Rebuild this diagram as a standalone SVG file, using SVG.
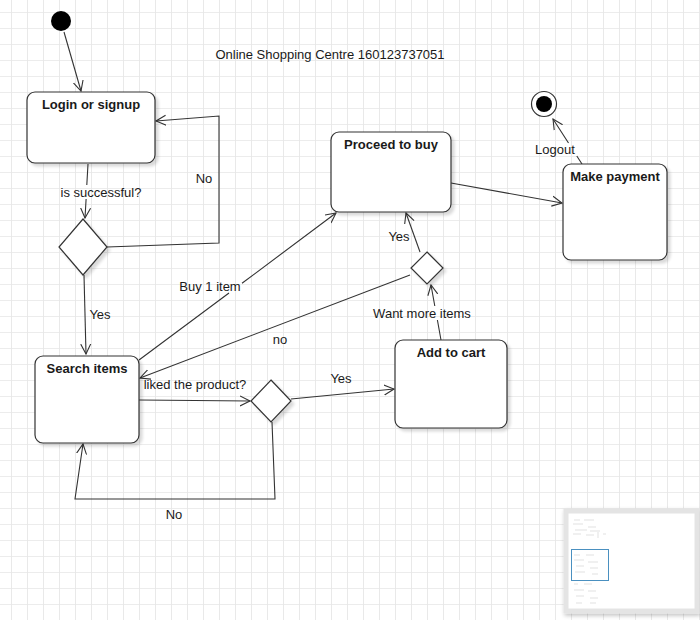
<svg xmlns="http://www.w3.org/2000/svg" width="700" height="620" viewBox="0 0 700 620">
<style>
text{font-family:"Liberation Sans",Arial,sans-serif;font-size:13px;fill:#1a1a1a}
.t{font-weight:bold;text-anchor:middle}
.l{text-anchor:middle}
.box{fill:#fff;stroke:#333;stroke-width:1.2;filter:url(#sh)}
.e{fill:none;stroke:#333;stroke-width:1.1;marker-end:url(#ar)}
</style>
<defs>
<pattern id="grid" x="11" y="12" width="16" height="16" patternUnits="userSpaceOnUse">
<path d="M0,0 H16 M0,0 V16" stroke="#e6e6e6" stroke-width="1.7" fill="none"/>
</pattern>
<marker id="ar" markerWidth="12" markerHeight="12" refX="10" refY="5" orient="auto" markerUnits="userSpaceOnUse" viewBox="0 0 12 10">
<path d="M0,0 L10,5 L0,10" fill="none" stroke="#333" stroke-width="1.1"/>
</marker>
<filter id="sh" x="-10%" y="-10%" width="130%" height="130%">
<feGaussianBlur in="SourceAlpha" stdDeviation="1.5"/>
<feOffset dx="3" dy="3" result="b"/>
<feComponentTransfer><feFuncA type="linear" slope="0.15"/></feComponentTransfer>
<feMerge><feMergeNode/><feMergeNode in="SourceGraphic"/></feMerge>
</filter>
<filter id="msh" x="-10%" y="-10%" width="120%" height="120%">
<feGaussianBlur in="SourceAlpha" stdDeviation="2"/>
<feOffset dx="1" dy="2"/>
<feComponentTransfer><feFuncA type="linear" slope="0.25"/></feComponentTransfer>
<feMerge><feMergeNode/><feMergeNode in="SourceGraphic"/></feMerge>
</filter>
</defs>
<rect width="700" height="620" fill="#fff"/>
<rect width="700" height="620" fill="url(#grid)"/>
<text x="330" y="59" class="l">Online Shopping Centre 160123737051</text>
<g id="connectors">
<path class="e" d="M64,32 L81,91"/>
<path class="e" d="M88,164 L86.8,185 M86.1,199 L85,218"/>
<text x="101" y="197" class="l">is successful?</text>
<path class="e" d="M107,247 L219,243 L219,116 L156,121"/>
<text x="204" y="183" class="l">No</text>
<path class="e" d="M84,275 L86,354"/>
<text x="100" y="319" class="l">Yes</text>
<path class="e" d="M139,360 L229,293 M242,283.3 L336,213"/>
<text x="210" y="291" class="l">Buy 1 item</text>
<path class="e" d="M451,183 L562,203"/>
<path class="e" d="M582,164 L576.8,156 M568.5,143 L553,119"/>
<text x="555" y="154" class="l">Logout</text>
<path class="e" d="M420,252 L406,213"/>
<text x="399" y="241" class="l">Yes</text>
<path class="e" d="M410,275 L140,378"/>
<text x="280" y="344" class="l">no</text>
<path class="e" d="M441,340 L437.4,320 M434.8,306 L431,285"/>
<text x="422" y="318" class="l">Want more items</text>
<path class="e" d="M139,400 L250,401"/>
<text x="195" y="389" class="l">liked the product?</text>
<path class="e" d="M291,399 L394,389"/>
<text x="341" y="383" class="l">Yes</text>
<path class="e" d="M272,422 L275,499 L75,499 L83,444"/>
<text x="174" y="519" class="l">No</text>
</g>
<g id="start"><circle cx="61" cy="21" r="10" fill="#000"/></g>
<g id="end"><circle cx="544" cy="104" r="12.5" fill="#fff" stroke="#333" stroke-width="1.2"/><circle cx="544" cy="104" r="8" fill="#000"/></g>
<g id="login"><rect class="box" x="27" y="92" width="128" height="71" rx="8"/><text x="91" y="109" class="t">Login or signup</text></g>
<g id="d1"><path class="box" d="M83,219 L107,247 L83,275 L59,247 Z"/></g>
<g id="search"><rect class="box" x="35" y="356" width="104" height="87" rx="8"/><text x="87" y="373" class="t">Search items</text></g>
<g id="proceed"><rect class="box" x="331" y="132" width="120" height="80" rx="8"/><text x="391" y="149" class="t">Proceed to buy</text></g>
<g id="payment"><rect class="box" x="563" y="164" width="104" height="96" rx="8"/><text x="615" y="181" class="t">Make payment</text></g>
<g id="d2"><path class="box" d="M427,252 L443,268 L427,284 L411,268 Z"/></g>
<g id="cart"><rect class="box" x="395" y="340" width="112" height="88" rx="8"/><text x="451" y="357" class="t">Add to cart</text></g>
<g id="d3"><path class="box" d="M271,380 L291,401 L271,422 L251,401 Z"/></g>
<g id="minimap">
<rect x="566" y="511" width="131" height="100" fill="#fff" stroke="#e4e4e4" stroke-width="5" filter="url(#msh)"/>
<g stroke="#ccc" stroke-width="0.6" fill="none">
<path d="M574,520 h6 M584,520 h10 M573,524 h10 M588,527 h8 M575,530 h12 M590,531 h10 M573,534 h8 M586,535 h8 M598,532 v6 M603,534 h3"/>
<path d="M574,555 h6 M586,555 h8 M574,560 h10 M588,562 h10 M576,566 h8 M590,568 h8 M575,572 h10 M592,574 h6"/>
<path d="M574,584 h4 M584,584 h8 M574,590 h10 M588,591 h8 M576,596 h8 M590,598 h8 M576,603 h6 M590,603 h6"/>
</g>
<rect x="571.5" y="549.5" width="37" height="31" fill="none" stroke="#4a90c0" stroke-width="1"/>
</g>
</svg>
